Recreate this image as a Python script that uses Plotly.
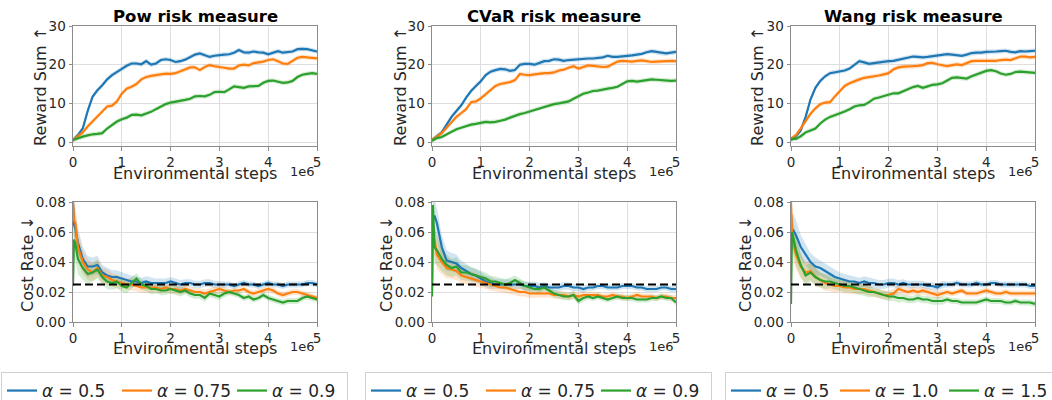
import plotly.graph_objects as go

# ---------------- data ----------------
steps_reward = [0.0, 0.1, 0.2, 0.3, 0.4, 0.5, 0.6, 0.7, 0.8, 0.9,
                1.0, 1.1, 1.2, 1.3, 1.4, 1.5, 1.6, 1.7, 1.8, 1.9,
                2.0, 2.1, 2.2, 2.3, 2.4, 2.5, 2.6, 2.7, 2.8, 2.9,
                3.0, 3.1, 3.2, 3.3, 3.4, 3.5, 3.6, 3.7, 3.8, 3.9,
                4.0, 4.1, 4.2, 4.3, 4.4, 4.5, 4.6, 4.7, 4.8, 4.9, 5.0]
steps_cost = [0.0, 0.02, 0.05] + steps_reward[1:]

titles = ["Pow risk measure", "CVaR risk measure", "Wang risk measure"]
legend_labels = [["0.5", "0.75", "0.9"], ["0.5", "0.75", "0.9"], ["0.5", "1.0", "1.5"]]
cost_threshold = 0.025
reward_band = 0.6

pow_reward_1 = [0.5, 1.8, 3.5, 8.0, 11.7, 13.4, 14.7, 16.2, 17.3, 18.2, 18.9, 19.7, 20.3, 20.3, 20.1, 20.9, 20.0,
                20.3, 21.2, 21.4, 21.2, 20.7, 20.9, 21.3, 22.0, 22.6, 22.9, 22.5, 22.0, 22.3, 22.5, 22.6, 22.7, 23.1,
                23.8, 23.2, 23.1, 23.4, 23.2, 23.1, 22.7, 23.1, 23.5, 23.1, 23.3, 23.4, 24.0, 24.1, 24.0, 23.7, 23.4]
pow_reward_2 = [0.5, 1.5, 2.5, 4.0, 5.3, 6.5, 8.0, 9.2, 9.4, 10.5, 12.5, 13.8, 14.3, 15.0, 16.2, 16.8, 17.1, 17.3,
                17.5, 17.7, 17.6, 17.8, 18.3, 18.8, 19.3, 19.3, 18.6, 19.4, 19.9, 19.6, 19.3, 19.2, 19.0, 19.0, 19.8,
                20.0, 19.8, 20.4, 20.6, 20.8, 21.2, 21.4, 20.9, 20.3, 20.2, 21.0, 21.8, 22.0, 21.9, 21.7, 21.6]
pow_reward_3 = [0.5, 1.0, 1.4, 1.7, 2.0, 2.1, 2.3, 3.5, 4.5, 5.3, 5.9, 6.3, 7.0, 7.1, 6.9, 7.3, 7.8, 8.5, 9.2, 9.8,
                10.2, 10.4, 10.6, 10.9, 11.2, 11.8, 11.9, 11.8, 12.2, 12.9, 13.0, 12.9, 13.6, 14.4, 14.2, 14.0, 14.4,
                14.4, 14.5, 15.3, 15.8, 15.9, 15.6, 15.3, 15.4, 15.8, 16.8, 17.4, 17.6, 17.8, 17.6]

cvar_reward_1 = [0.5, 1.5, 2.5, 4.5, 6.5, 8.0, 9.5, 11.5, 13.2, 14.5, 15.7, 17.3, 18.2, 18.6, 18.9, 18.8, 18.4,
                 18.6, 20.0, 20.2, 20.2, 20.0, 20.4, 20.9, 21.0, 21.4, 21.3, 21.0, 21.2, 21.3, 21.5, 21.5, 21.6, 21.6,
                 21.8, 21.9, 22.3, 22.0, 22.0, 22.1, 22.3, 22.4, 22.6, 22.8, 23.2, 23.5, 23.3, 23.0, 22.9, 23.1, 23.3]
cvar_reward_2 = [0.5, 1.5, 2.3, 3.7, 5.2, 6.5, 7.5, 8.5, 10.3, 10.5, 11.3, 12.3, 13.5, 14.5, 15.0, 15.2, 15.5, 16.0,
                 17.6, 17.4, 17.3, 17.5, 17.7, 17.8, 17.8, 18.0, 18.5, 18.7, 19.2, 19.6, 19.0, 19.3, 19.8, 19.7, 19.5,
                 19.4, 19.5, 20.1, 20.8, 21.0, 20.9, 20.8, 21.0, 21.1, 20.9, 20.7, 20.8, 20.9, 21.0, 21.0, 20.9]
cvar_reward_3 = [0.3, 1.0, 1.3, 2.0, 2.8, 3.3, 3.7, 4.2, 4.5, 4.7, 5.0, 5.2, 5.1, 5.2, 5.5, 5.8, 6.3, 6.8, 7.2, 7.5,
                 7.9, 8.3, 8.7, 9.2, 9.5, 9.8, 10.0, 10.2, 10.5, 11.2, 11.8, 12.5, 12.8, 13.2, 13.3, 13.6, 13.8, 14.0,
                 14.3, 15.0, 15.7, 15.8, 15.6, 15.8, 16.0, 16.2, 16.1, 16.0, 15.9, 15.8, 15.9]

wang_reward_1 = [0.5, 1.5, 3.0, 6.5, 11.0, 14.0, 15.8, 17.0, 17.8, 18.0, 18.2, 18.5, 19.0, 20.0, 20.9, 20.6, 20.2,
                 20.4, 20.6, 20.8, 20.9, 21.0, 21.3, 21.6, 21.8, 22.1, 22.0, 21.9, 22.0, 22.2, 22.3, 22.6, 22.7, 22.6,
                 22.5, 22.3, 22.6, 23.0, 23.1, 23.1, 23.3, 23.3, 23.4, 23.5, 23.6, 23.3, 23.2, 23.5, 23.4, 23.5, 23.6]
wang_reward_2 = [0.8, 1.8, 3.5, 5.5, 7.3, 8.7, 9.8, 10.2, 10.3, 11.8, 13.3, 14.5, 15.2, 15.6, 16.2, 16.6, 16.8, 16.9,
                 17.2, 17.5, 17.8, 18.8, 19.3, 19.5, 19.5, 19.6, 19.7, 19.9, 20.4, 20.5, 20.1, 19.8, 19.6, 19.9, 20.1,
                 19.9, 20.4, 20.9, 21.0, 21.0, 21.1, 21.0, 21.0, 21.2, 21.3, 21.2, 21.6, 22.1, 22.1, 21.9, 22.0]
wang_reward_3 = [0.8, 0.8, 1.5, 2.5, 3.0, 3.5, 4.8, 5.8, 6.5, 6.9, 7.3, 7.9, 8.5, 9.2, 9.5, 9.6, 10.3, 11.2, 11.5,
                 11.8, 12.2, 12.6, 12.6, 13.2, 13.7, 14.2, 14.5, 14.0, 14.4, 14.8, 14.9, 15.2, 15.9, 16.6, 16.7, 16.5,
                 16.4, 17.0, 17.5, 17.9, 18.4, 18.6, 18.3, 17.7, 17.4, 17.6, 18.1, 18.2, 18.1, 18.0, 17.9]

pow_cost_1 = [0.080, 0.065, 0.062, 0.053, 0.042, 0.037, 0.037, 0.038, 0.033, 0.031, 0.030, 0.030, 0.029, 0.028,
              0.027, 0.027, 0.026, 0.027, 0.026, 0.026, 0.026, 0.026, 0.027, 0.026, 0.025, 0.026, 0.026, 0.025,
              0.025, 0.026, 0.026, 0.025, 0.025, 0.025, 0.025, 0.024, 0.025, 0.026, 0.025, 0.025, 0.024, 0.025,
              0.026, 0.025, 0.025, 0.024, 0.025, 0.025, 0.025, 0.025, 0.026, 0.026, 0.025]
pow_cost_2 = [0.080, 0.068, 0.066, 0.050, 0.040, 0.035, 0.033, 0.036, 0.031, 0.030, 0.028, 0.027, 0.026, 0.025,
              0.025, 0.024, 0.023, 0.023, 0.023, 0.023, 0.022, 0.023, 0.022, 0.022, 0.021, 0.022, 0.021, 0.020,
              0.020, 0.019, 0.020, 0.021, 0.022, 0.021, 0.020, 0.021, 0.021, 0.022, 0.020, 0.019, 0.020, 0.021,
              0.022, 0.021, 0.019, 0.018, 0.019, 0.020, 0.020, 0.019, 0.018, 0.017, 0.016]
pow_cost_3 = [0.024, 0.055, 0.052, 0.042, 0.036, 0.032, 0.033, 0.035, 0.030, 0.027, 0.026, 0.027, 0.024, 0.023,
              0.026, 0.029, 0.025, 0.024, 0.022, 0.022, 0.021, 0.021, 0.022, 0.021, 0.020, 0.021, 0.019, 0.018,
              0.018, 0.016, 0.019, 0.018, 0.017, 0.019, 0.020, 0.019, 0.018, 0.016, 0.017, 0.015, 0.016, 0.018,
              0.016, 0.015, 0.014, 0.013, 0.014, 0.014, 0.014, 0.016, 0.017, 0.016, 0.015]

cvar_cost_1 = [0.050, 0.068, 0.071, 0.066, 0.050, 0.041, 0.040, 0.039, 0.036, 0.034, 0.032, 0.031, 0.029, 0.027,
               0.026, 0.025, 0.025, 0.025, 0.025, 0.025, 0.025, 0.024, 0.024, 0.024, 0.023, 0.024, 0.023, 0.023,
               0.023, 0.024, 0.024, 0.023, 0.023, 0.022, 0.023, 0.023, 0.024, 0.024, 0.023, 0.023, 0.023, 0.024,
               0.024, 0.024, 0.023, 0.023, 0.022, 0.022, 0.022, 0.023, 0.023, 0.022, 0.022]
cvar_cost_2 = [0.020, 0.060, 0.055, 0.045, 0.040, 0.036, 0.035, 0.034, 0.031, 0.030, 0.029, 0.028, 0.027, 0.026,
               0.025, 0.024, 0.023, 0.023, 0.022, 0.021, 0.020, 0.020, 0.019, 0.019, 0.019, 0.019, 0.019, 0.018,
               0.018, 0.018, 0.017, 0.018, 0.017, 0.018, 0.018, 0.018, 0.018, 0.017, 0.017, 0.018, 0.017, 0.017,
               0.016, 0.017, 0.018, 0.017, 0.017, 0.017, 0.016, 0.017, 0.017, 0.016, 0.016]
cvar_cost_3 = [0.017, 0.078, 0.050, 0.048, 0.042, 0.038, 0.036, 0.037, 0.033, 0.033, 0.032, 0.031, 0.030, 0.029,
               0.027, 0.027, 0.026, 0.025, 0.026, 0.028, 0.026, 0.024, 0.023, 0.022, 0.022, 0.023, 0.021, 0.019,
               0.018, 0.017, 0.017, 0.018, 0.014, 0.016, 0.017, 0.016, 0.017, 0.016, 0.015, 0.016, 0.017, 0.016,
               0.016, 0.016, 0.015, 0.015, 0.015, 0.016, 0.016, 0.017, 0.016, 0.016, 0.013]

wang_cost_1 = [0.070, 0.060, 0.061, 0.058, 0.050, 0.045, 0.040, 0.037, 0.036, 0.034, 0.032, 0.030, 0.029, 0.028,
               0.027, 0.027, 0.026, 0.027, 0.026, 0.026, 0.025, 0.025, 0.026, 0.026, 0.025, 0.026, 0.025, 0.025,
               0.025, 0.025, 0.024, 0.024, 0.023, 0.025, 0.025, 0.025, 0.026, 0.025, 0.025, 0.025, 0.026, 0.025,
               0.025, 0.026, 0.026, 0.025, 0.025, 0.025, 0.025, 0.025, 0.025, 0.024, 0.024]
wang_cost_2 = [0.080, 0.062, 0.052, 0.045, 0.037, 0.033, 0.034, 0.030, 0.028, 0.026, 0.025, 0.024, 0.024, 0.023,
               0.023, 0.022, 0.022, 0.022, 0.021, 0.020, 0.019, 0.018, 0.018, 0.019, 0.022, 0.021, 0.020, 0.021,
               0.020, 0.021, 0.020, 0.019, 0.018, 0.019, 0.020, 0.019, 0.020, 0.021, 0.019, 0.019, 0.019, 0.020,
               0.021, 0.020, 0.019, 0.019, 0.020, 0.019, 0.019, 0.019, 0.019, 0.019, 0.019]
wang_cost_3 = [0.012, 0.060, 0.056, 0.048, 0.038, 0.031, 0.033, 0.030, 0.028, 0.027, 0.027, 0.026, 0.025, 0.024,
               0.024, 0.023, 0.022, 0.021, 0.020, 0.020, 0.019, 0.018, 0.017, 0.017, 0.016, 0.016, 0.015, 0.015,
               0.016, 0.015, 0.015, 0.014, 0.014, 0.014, 0.015, 0.014, 0.014, 0.013, 0.013, 0.013, 0.013, 0.014,
               0.015, 0.014, 0.014, 0.014, 0.013, 0.013, 0.014, 0.013, 0.013, 0.013, 0.012]

cost_band = [0.012, 0.012, 0.011, 0.010, 0.008, 0.007, 0.006, 0.006, 0.005, 0.005, 0.0045, 0.0045, 0.004, 0.004,
             0.004, 0.0035, 0.0035, 0.0035, 0.0035, 0.003, 0.003, 0.003, 0.003, 0.003, 0.003, 0.0025, 0.0025,
             0.0025, 0.0025, 0.0025, 0.0025, 0.0025, 0.0025, 0.0025, 0.002, 0.002, 0.002, 0.002, 0.002, 0.002,
             0.002, 0.002, 0.002, 0.002, 0.002, 0.002, 0.002, 0.002, 0.002, 0.002, 0.002, 0.002, 0.002]

rewards = [[pow_reward_1, pow_reward_2, pow_reward_3],
           [cvar_reward_1, cvar_reward_2, cvar_reward_3],
           [wang_reward_1, wang_reward_2, wang_reward_3]]
costs = [[pow_cost_1, pow_cost_2, pow_cost_3],
         [cvar_cost_1, cvar_cost_2, cvar_cost_3],
         [wang_cost_1, wang_cost_2, wang_cost_3]]

for grp in rewards:
    for s in grp:
        assert len(s) == len(steps_reward), len(s)
for grp in costs:
    for s in grp:
        assert len(s) == len(steps_cost), len(s)
assert len(cost_band) == len(steps_cost)

# ---------------- style ----------------
W, H = 1052, 400
colors = ["#1f77b4", "#ff7f0e", "#2ca02c"]
bands = ["rgba(31,119,180,0.2)", "rgba(255,127,14,0.2)", "rgba(44,160,44,0.2)"]
FONT = "DejaVu Sans"
TXT = "#262626"

col_px = [(73, 317), (432, 676), (791, 1035)]
top_px = (26, 146)
bot_px = (202, 322)


def px_x(p):
    return p / W


def px_y(p):
    return 1 - p / H


fig = go.Figure()
annotations = []

for c in range(3):
    xa_top = "x%d" % (c + 1) if c > 0 else "x"
    ya_top = "y%d" % (c + 1) if c > 0 else "y"
    xa_bot = "x%d" % (c + 4)
    ya_bot = "y%d" % (c + 4)
    leg = "legend" if c == 0 else "legend%d" % (c + 1)

    for i in range(3):
        vals = rewards[c][i]
        up = [v + reward_band for v in vals]
        lo = [v - reward_band for v in vals]
        fig.add_trace(go.Scatter(x=steps_reward + steps_reward[::-1], y=up + lo[::-1], fill="toself",
                                 fillcolor=bands[i], line=dict(width=0), mode="lines", hoverinfo="skip",
                                 showlegend=False, xaxis=xa_top, yaxis=ya_top))
        fig.add_trace(go.Scatter(x=steps_reward, y=vals, mode="lines", line=dict(color=colors[i], width=2.2),
                                 showlegend=False, xaxis=xa_top, yaxis=ya_top, hoverinfo="skip"))

    for i in range(3):
        vals = costs[c][i]
        up = [v + b for v, b in zip(vals, cost_band)]
        lo = [v - b for v, b in zip(vals, cost_band)]
        fig.add_trace(go.Scatter(x=steps_cost + steps_cost[::-1], y=up + lo[::-1], fill="toself",
                                 fillcolor=bands[i], line=dict(width=0), mode="lines", hoverinfo="skip",
                                 showlegend=False, xaxis=xa_bot, yaxis=ya_bot))
    for i in range(3):
        vals = costs[c][i]
        fig.add_trace(go.Scatter(x=steps_cost, y=vals, mode="lines", line=dict(color=colors[i], width=2.2),
                                 name="<i>α</i> = " + legend_labels[c][i], legend=leg, showlegend=True,
                                 xaxis=xa_bot, yaxis=ya_bot, hoverinfo="skip"))
    fig.add_trace(go.Scatter(x=[steps_cost[0], steps_cost[-1]], y=[cost_threshold, cost_threshold], mode="lines",
                             line=dict(color="black", width=2, dash="8px,4px"), showlegend=False,
                             xaxis=xa_bot, yaxis=ya_bot, hoverinfo="skip"))

    x0, x1 = col_px[c]
    xd = [px_x(x0), px_x(x1)]
    axis_common = dict(showline=True, linecolor="#8c8c8c", linewidth=1, mirror=True, showgrid=True,
                       gridcolor="#dedede", gridwidth=1, zeroline=False, ticks="outside", ticklen=3.5,
                       tickcolor="#8c8c8c", automargin=False,
                       tickfont=dict(family=FONT, size=13.5, color=TXT))
    n_top = "" if c == 0 else str(c + 1)
    fig.update_layout(**{
        "xaxis" + n_top: dict(domain=xd, range=[0, 5], tickvals=[0, 1, 2, 3, 4, 5], anchor="y" + n_top,
                              **axis_common),
        "yaxis" + n_top: dict(domain=[px_y(top_px[1]), px_y(top_px[0])], range=[-1.03, 30],
                              tickvals=[0, 10, 20, 30], anchor="x" + n_top, **axis_common),
        "xaxis%d" % (c + 4): dict(domain=xd, range=[0, 5], tickvals=[0, 1, 2, 3, 4, 5],
                                  anchor="y%d" % (c + 4), **axis_common),
        "yaxis%d" % (c + 4): dict(domain=[px_y(bot_px[1]), px_y(bot_px[0])], range=[0, 0.08],
                                  tickvals=[0, 0.02, 0.04, 0.06, 0.08], tickformat=".2f",
                                  anchor="x%d" % (c + 4), **axis_common),
    })

    cx = (x0 + x1) / 2
    annotations.append(dict(text="<b>%s</b>" % titles[c], x=px_x(cx), y=px_y(16), xref="paper", yref="paper",
                            showarrow=False, font=dict(family=FONT, size=16.5, color="black"),
                            xanchor="center", yanchor="middle"))
    for yc in (173, 348):
        annotations.append(dict(text="Environmental steps", x=px_x(cx), y=px_y(yc), xref="paper", yref="paper",
                                showarrow=False, font=dict(family=FONT, size=16, color=TXT),
                                xanchor="center", yanchor="middle"))
    for yc in (172, 346):
        annotations.append(dict(text="1e6", x=px_x(x1), y=px_y(yc), xref="paper", yref="paper",
                                showarrow=False, font=dict(family=FONT, size=13, color=TXT),
                                xanchor="right", yanchor="middle"))
    yt_reward_x = [40, 400, 757][c]
    yt_cost_x = [27, 386, 745][c]
    annotations.append(dict(text="Reward Sum ↑", x=px_x(yt_reward_x), y=px_y(87), xref="paper", yref="paper",
                            showarrow=False, textangle=-90, font=dict(family=FONT, size=16, color=TXT),
                            xanchor="center", yanchor="middle"))
    annotations.append(dict(text="Cost Rate ↓", x=px_x(yt_cost_x), y=px_y(264), xref="paper", yref="paper",
                            showarrow=False, textangle=-90, font=dict(family=FONT, size=16, color=TXT),
                            xanchor="center", yanchor="middle"))

leg_common = dict(orientation="h", yanchor="top", y=px_y(372), xanchor="left",
                  bgcolor="white", bordercolor="#d0d0d0", borderwidth=1,
                  font=dict(family=FONT, size=17, color=TXT), entrywidthmode="pixels",
                  itemwidth=30, tracegroupgap=0)
fig.update_layout(
    width=W, height=H, margin=dict(l=0, r=0, t=0, b=0, autoexpand=False),
    plot_bgcolor="white", paper_bgcolor="white",
    annotations=annotations,
    legend=dict(x=px_x(1), entrywidth=70, **leg_common),
    legend2=dict(x=px_x(365), entrywidth=70, **leg_common),
    legend3=dict(x=px_x(725), entrywidth=64, **leg_common),
    hovermode=False,
)

fig.write_html("out.html", config={"displayModeBar": False},
               post_script="document.body.style.margin='0px';document.body.style.overflow='hidden';")
